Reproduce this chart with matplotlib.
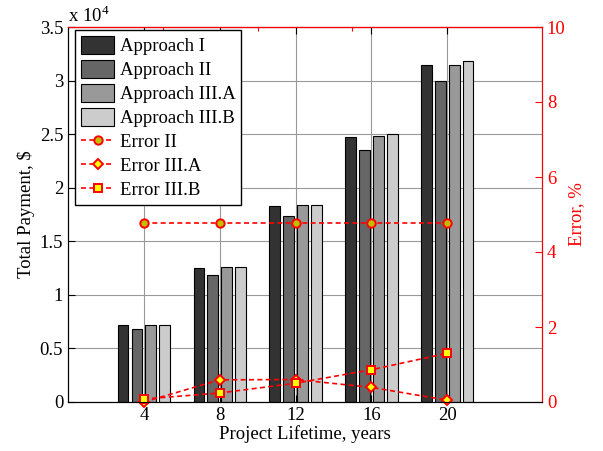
import numpy as np
import matplotlib
matplotlib.use('Agg')
import matplotlib.pyplot as plt

plt.rcParams['font.family'] = ['Liberation Serif', 'DejaVu Serif']
plt.rcParams['mathtext.fontset'] = 'custom'
plt.rcParams['mathtext.rm'] = 'Liberation Serif'
plt.rcParams['font.size'] = 13.5

# data
years = [4, 8, 12, 16, 20]
approach_1 = [0.72, 1.25, 1.83, 2.47, 3.15]
approach_2 = [0.68, 1.19, 1.74, 2.35, 3.00]
approach_3a = [0.72, 1.26, 1.84, 2.48, 3.15]
approach_3b = [0.72, 1.26, 1.84, 2.50, 3.18]
err_2 = [4.77, 4.77, 4.77, 4.77, 4.77]
err_3a = [0.0, 0.59, 0.60, 0.39, 0.05]
err_3b = [0.08, 0.24, 0.50, 0.86, 1.30]

bar_names = ['Approach I', 'Approach II', 'Approach III.A', 'Approach III.B']
bar_colors = ['#333333', '#666666', '#999999', '#cccccc']

fig = plt.figure(figsize=(6.03, 4.51), dpi=100)
ax = fig.add_axes([68/603, 49/451, 474/603, 375/451])

x = np.array(years, dtype=float)
pitch = 0.73
width = 0.57
handles = []
for i, (vals, name, col) in enumerate(zip([approach_1, approach_2, approach_3a, approach_3b],
                                          bar_names, bar_colors)):
    b = ax.bar(x + (i - 1.5) * pitch, vals, width, color=col, edgecolor='black',
               linewidth=0.8, label=name, zorder=2)
    handles.append(b)

ax.set_xlim(0, 25)
ax.set_ylim(0, 3.5)
ax.set_xticks(years)
ax.set_yticks(np.arange(0, 3.51, 0.5))
ax.set_yticklabels(['0', '0.5', '1', '1.5', '2', '2.5', '3', '3.5'])
ax.grid(True, color='#999999', linewidth=0.8, zorder=0)
ax.set_axisbelow(True)
ax.tick_params(direction='in', length=5, top=True, right=False, width=0.8)
ax.set_xlabel('Project Lifetime, years', labelpad=1)
ax.set_ylabel('Total Payment, \\$', labelpad=3)
ax.text(0, 1.004, r'x 10$^4$', transform=ax.transAxes, ha='left', va='bottom')

ax2 = ax.twinx()
l1, = ax2.plot(years, err_2, '--', color='red', lw=1.2, marker='o', ms=6,
               mfc='#bfbf00', mec='red', mew=1.4, label='Error II')
l2, = ax2.plot(years, err_3a, '--', color='red', lw=1.2, marker='D', ms=5,
               mfc='yellow', mec='red', mew=1.4, label='Error III.A')
l3, = ax2.plot(years, err_3b, '--', color='red', lw=1.2, marker='s', ms=5.5,
               mfc='yellow', mec='red', mew=1.4, label='Error III.B')
for l in (l1, l2, l3):
    l.set_dashes([3, 2])
    l.set_clip_on(False)
ax2.set_ylim(0, 10)
ax2.set_yticks([0, 2, 4, 6, 8, 10])
ax2.tick_params(axis='y', direction='in', length=5, colors='red', width=0.8)
ax2.spines['right'].set_color('red')
ax2.spines['top'].set_color('red')
ax2.set_ylabel('Error, %', color='red', labelpad=2)

sec = ax.secondary_xaxis('top')
sec.set_xticks([5, 10, 15, 20])
sec.set_xticklabels([])
sec.tick_params(direction='in', length=3, colors='red')
sec.spines['top'].set_color('red')

leg = ax2.legend(handles + [l1, l2, l3], bar_names + ['Error II', 'Error III.A', 'Error III.B'],
                 loc='upper left', bbox_to_anchor=(0.0148, 0.992), borderaxespad=0,
                 fancybox=False, edgecolor='black', framealpha=1, numpoints=1,
                 handlelength=1.8, handleheight=1.1, labelspacing=0.25,
                 handletextpad=0.3, borderpad=0.3)
leg.get_frame().set_linewidth(1.0)

fig.savefig('out.png', dpi=100)
